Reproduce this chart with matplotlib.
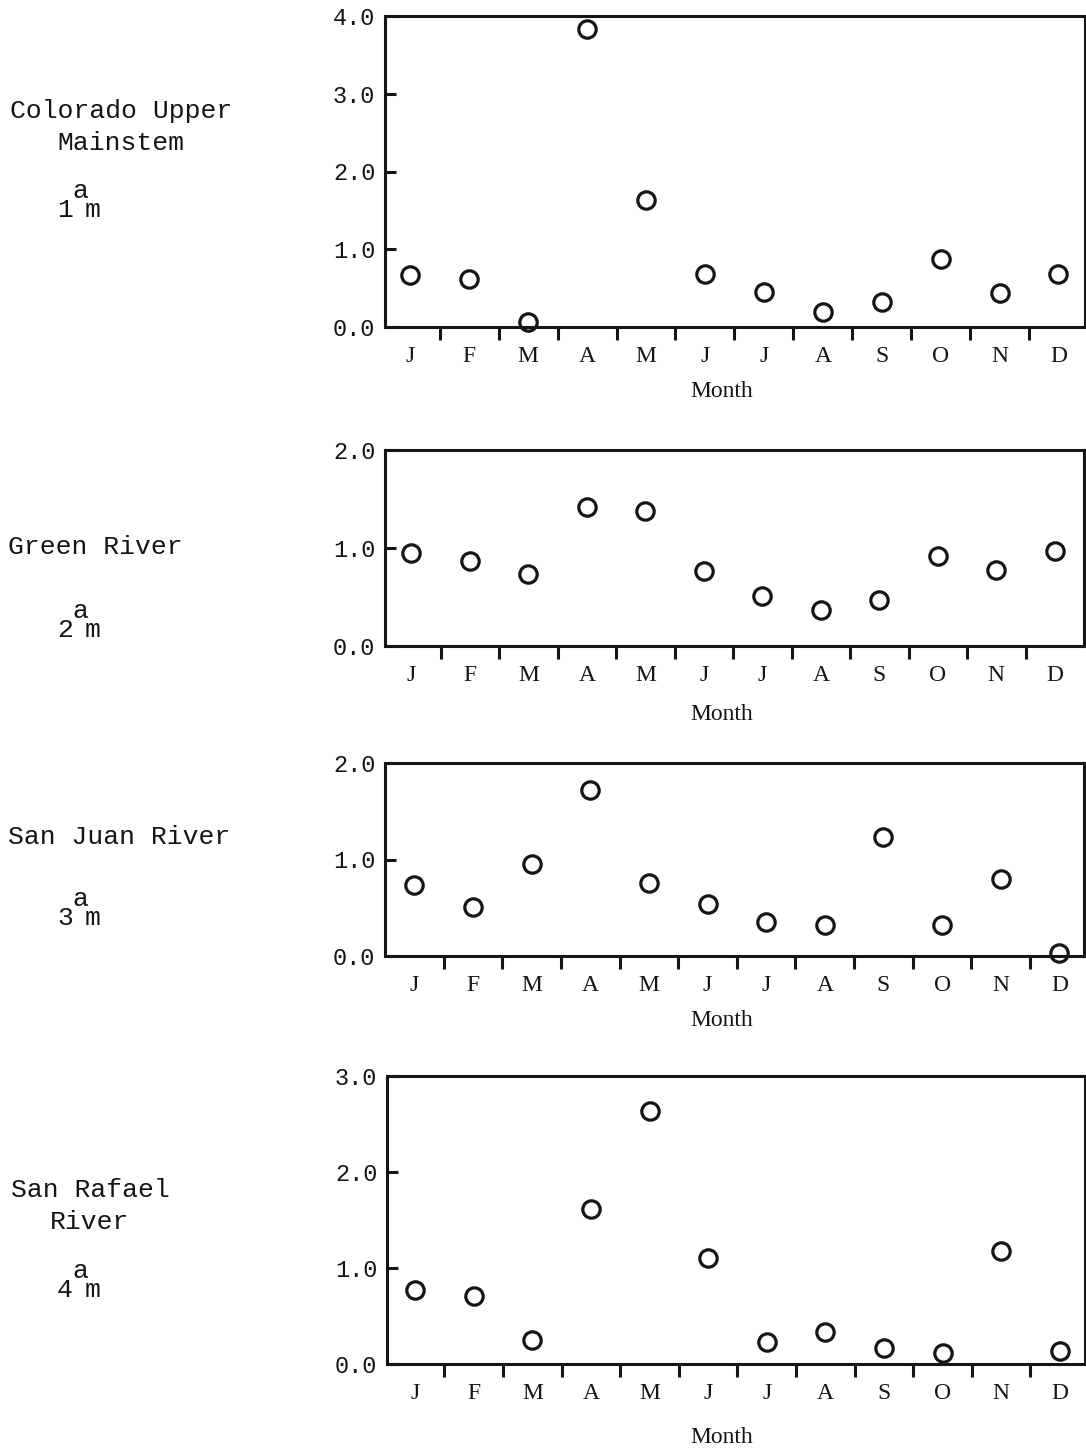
import matplotlib
matplotlib.use("Agg")
import matplotlib.pyplot as plt

# monthly values
months = ["J", "F", "M", "A", "M", "J", "J", "A", "S", "O", "N", "D"]

colorado = [0.67, 0.62, 0.06, 3.83, 1.63, 0.68, 0.45, 0.19, 0.32, 0.87, 0.44, 0.68]
green = [0.95, 0.87, 0.73, 1.42, 1.38, 0.77, 0.51, 0.37, 0.47, 0.92, 0.78, 0.97]
san_juan = [0.74, 0.51, 0.95, 1.72, 0.76, 0.54, 0.35, 0.32, 1.23, 0.32, 0.80, 0.03]
san_rafael = [0.77, 0.71, 0.25, 1.61, 2.64, 1.10, 0.23, 0.33, 0.17, 0.11, 1.18, 0.14]

river_names = ["Colorado Upper\nMainstem", "Green River", "San Juan River", "San Rafael\nRiver"]
station_nums = ["1", "2", "3", "4"]
y_maxes = [4.0, 2.0, 2.0, 3.0]
y_ticks = [[0.0, 1.0, 2.0, 3.0, 4.0], [0.0, 1.0, 2.0], [0.0, 1.0, 2.0], [0.0, 1.0, 2.0, 3.0]]

W, H = 1086, 1449
ink = "#151515"
mono = "Liberation Mono"
serif = "Liberation Serif"

fig = plt.figure(figsize=(W / 100, H / 100), dpi=100)

# axes boxes in pixels: left, top, right, bottom
boxes = [(385, 16, 1085, 327), (385, 450, 1084, 646), (385, 763, 1084, 956), (387, 1076, 1085, 1364)]
xlims = [(-0.43, 11.45), (-0.45, 11.5), (-0.5, 11.42), (-0.48, 11.43)]
xlabel_pads = [10, 12.5, 10, 16.5]

# left-hand text: (label x, label center y, ha), number baseline y
label_pos = [(121, 127, "center"), (8, 547, "left"), (8, 837, "left"), (90, 1206, "center")]
num_base = [217, 637, 925, 1297]

series = [colorado, green, san_juan, san_rafael]

for k in range(4):
    l, t, r, b = boxes[k]
    ax = fig.add_axes([l / W, 1 - b / H, (r - l) / W, (b - t) / H])
    ax.plot(range(12), series[k], linestyle="none", marker="o", markersize=12.5,
            markerfacecolor="none", markeredgecolor=ink, markeredgewidth=2.3, clip_on=False)
    ax.set_xlim(*xlims[k])
    ax.set_ylim(0, y_maxes[k])

    ax.set_yticks(y_ticks[k])
    ax.set_yticklabels(["%.1f" % v for v in y_ticks[k]], family=mono, fontsize=17, color=ink)
    ax.tick_params(axis="y", direction="in", length=8, width=2.2, pad=7, color=ink)

    ax.set_xticks([i + 0.5 for i in range(11)])
    ax.set_xticklabels([])
    ax.tick_params(axis="x", which="major", direction="out", length=9, width=2.2, color=ink)
    ax.set_xticks(range(12), minor=True)
    ax.set_xticklabels(months, minor=True, family=serif, fontsize=17, color=ink)
    ax.tick_params(axis="x", which="minor", length=0, pad=14)

    ax.set_xlabel("Month", family=serif, fontsize=17, color=ink, labelpad=xlabel_pads[k])
    ax.xaxis.label.set_x((722 - l) / (r - l))

    for sp in ax.spines.values():
        sp.set_linewidth(2.2)
        sp.set_color(ink)

    lx, ly, ha = label_pos[k]
    fig.text(lx / W, 1 - ly / H, river_names[k], family=mono, fontsize=19, color=ink,
             ha=ha, va="center", linespacing=1.4)
    nb = num_base[k]
    fig.text(57 / W, 1 - nb / H, station_nums[k], family=mono, fontsize=19, color=ink,
             ha="left", va="baseline")
    fig.text(72 / W, 1 - (nb - 19) / H, "a", family=mono, fontsize=19, color=ink,
             ha="left", va="baseline")
    fig.text(85 / W, 1 - nb / H, "m", family=mono, fontsize=19, color=ink,
             ha="left", va="baseline")

fig.savefig("out.png", dpi=100, facecolor="white")
